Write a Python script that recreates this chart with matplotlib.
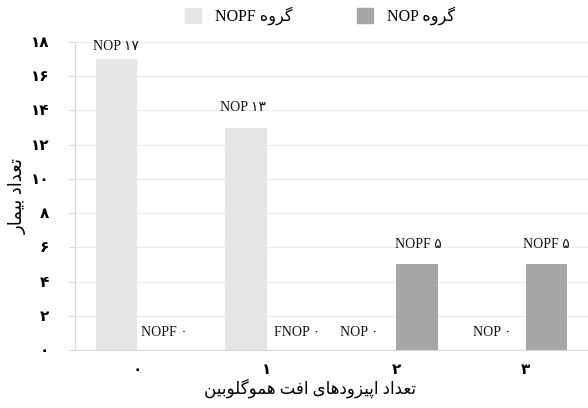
import numpy as np
import matplotlib
matplotlib.use('Agg')
import matplotlib.pyplot as plt
from matplotlib.patches import Patch

# data
categories = [0, 1, 2, 3]
nopf_counts = [17, 13, 0, 0]      # light bars, legend "گروه NOPF"
nop_counts = [0, 0, 5, 5]         # dark bars, legend "گروه NOP"
nopf_bar_tags = ['NOP', 'NOP', 'NOP', 'NOP']
nop_bar_tags = ['NOPF', 'FNOP', 'NOPF', 'NOPF']
y_ticks = [0, 2, 4, 6, 8, 10, 12, 14, 16, 18]
legend_word = 'گروه'
x_title = 'تعداد اپیزودهای افت هموگلوبین'
y_title = 'تعداد بیمار'

# label nudges (pixels) as placed in the reference
nopf_dx = [0, -3, -16, -13]
nop_dx = [6, 10, 1, 0]

LIGHT = '#e6e6e6'
DARK = '#a6a6a6'
LINE = '#d9d9d9'

# arabic presentation forms: (isolated, final, initial, medial)
FORMS = {
    'ا': ('\uFE8D', '\uFE8E'),
    'ب': ('\uFE8F', '\uFE90', '\uFE91', '\uFE92'),
    'پ': ('\uFB56', '\uFB57', '\uFB58', '\uFB59'),
    'ت': ('\uFE95', '\uFE96', '\uFE97', '\uFE98'),
    'د': ('\uFEA9', '\uFEAA'),
    'ر': ('\uFEAD', '\uFEAE'),
    'ز': ('\uFEAF', '\uFEB0'),
    'ع': ('\uFEC9', '\uFECA', '\uFECB', '\uFECC'),
    'ف': ('\uFED1', '\uFED2', '\uFED3', '\uFED4'),
    'گ': ('\uFB92', '\uFB93', '\uFB94', '\uFB95'),
    'ل': ('\uFEDD', '\uFEDE', '\uFEDF', '\uFEE0'),
    'م': ('\uFEE1', '\uFEE2', '\uFEE3', '\uFEE4'),
    'ن': ('\uFEE5', '\uFEE6', '\uFEE7', '\uFEE8'),
    'ه': ('\uFEE9', '\uFEEA', '\uFEEB', '\uFEEC'),
    'و': ('\uFEED', '\uFEEE'),
    'ی': ('\uFBFC', '\uFBFD', '\uFBFE', '\uFBFF'),
}


def fa(text):
    '''shape persian text and put it in visual (left to right) order'''
    out = []
    for i, ch in enumerate(text):
        f = FORMS.get(ch)
        if f is None:
            out.append(ch)
            continue
        prev = FORMS.get(text[i - 1]) if i > 0 else None
        nxt = FORMS.get(text[i + 1]) if i + 1 < len(text) else None
        after = prev is not None and len(prev) == 4
        before = nxt is not None and len(f) == 4
        if after and before:
            out.append(f[3])
        elif after:
            out.append(f[1])
        elif before:
            out.append(f[2])
        else:
            out.append(f[0])
    return ''.join(reversed(out))


def fa_num(n):
    return str(n).translate(str.maketrans('0123456789', '۰۱۲۳۴۵۶۷۸۹'))


plt.rcParams['font.family'] = ['Liberation Serif', 'DejaVu Sans']

fig = plt.figure(figsize=(5.88, 4.08), dpi=100)
ax = fig.add_axes([75 / 588, 58 / 408, 513 / 588, 308 / 408])

x = np.array(categories)
w = 0.32
b1 = ax.bar(x - w / 2, nopf_counts, w, color=LIGHT, zorder=2)
b2 = ax.bar(x + w / 2, nop_counts, w, color=DARK, zorder=2)

for bars, vals, tags, dxs in [(b1, nopf_counts, nopf_bar_tags, nopf_dx),
                              (b2, nop_counts, nop_bar_tags, nop_dx)]:
    for bar, v, t, dx in zip(bars, vals, tags, dxs):
        dy = 13 if v >= 17 else (17 if v == 0 else 20)
        ax.annotate(t + ' ' + fa_num(v),
                    (bar.get_x() + bar.get_width() / 2, v),
                    xytext=(dx * 0.72, dy * 0.72), textcoords='offset points',
                    ha='center', va='center', fontsize=10, color='#111111')

ax.set_xlim(-0.48, 3.48)
ax.set_ylim(0, 18)
ax.set_yticks(y_ticks)
ax.set_yticklabels([fa_num(v) for v in y_ticks], fontsize=11, fontweight='bold')
ax.set_xticks(categories)
ax.set_xticklabels([fa_num(c) for c in categories], fontsize=11, fontweight='bold')
ax.tick_params(axis='y', length=4.5, color=LINE, pad=14)
ax.tick_params(axis='x', length=0, pad=10)

ax.grid(axis='y', color='#ebebeb', linewidth=0.9, zorder=0)
ax.set_axisbelow(True)
for s in ['top', 'right']:
    ax.spines[s].set_visible(False)
for s in ['left', 'bottom']:
    ax.spines[s].set_color(LINE)

fig.text(310 / 588, 1 - 388 / 408, fa(x_title), ha='center', va='center', fontsize=12)
fig.text(18 / 588, 1 - 196 / 408, fa(y_title), ha='center', va='center',
         rotation=90, fontsize=13)

handles = [Patch(color=LIGHT), Patch(color=DARK)]
labels = ['NOPF ' + fa(legend_word), 'NOP ' + fa(legend_word)]
fig.legend(handles, labels, loc='center', bbox_to_anchor=(320 / 588, 1 - 16 / 408),
           ncol=2, frameon=False, fontsize=11.5, handlelength=1.0, handleheight=1.0,
           handletextpad=0.9, columnspacing=4.0)

fig.savefig('out.png', dpi=100)
